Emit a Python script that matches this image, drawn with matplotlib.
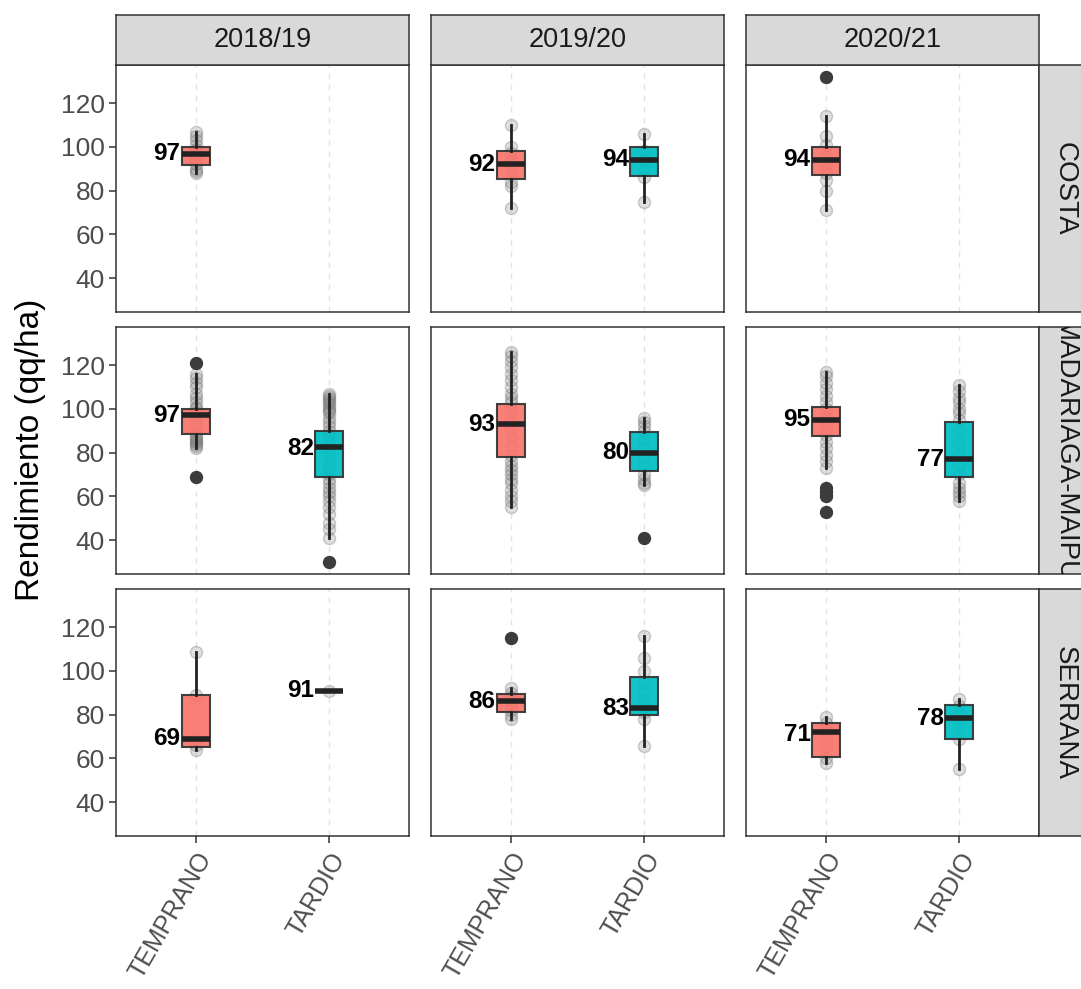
import matplotlib
matplotlib.use("Agg")
import matplotlib.pyplot as plt
from matplotlib import font_manager

W, H = 1081, 989

regions = ["COSTA", "MADARIAGA-MAIPU", "SERRANA"]
seasons = ["2018/19", "2019/20", "2020/21"]
timings = ["TEMPRANO", "TARDIO"]

# box stats: (whisker low, q1, median, q3, whisker high)
box_stats = {
    ("COSTA", "2018/19", "TEMPRANO"): (88, 91.5, 96.5, 100, 107),
    ("COSTA", "2019/20", "TEMPRANO"): (72, 85.5, 92, 98, 110),
    ("COSTA", "2019/20", "TARDIO"): (75, 86.5, 94, 100, 106),
    ("COSTA", "2020/21", "TEMPRANO"): (71, 87, 94, 100, 114),
    ("MADARIAGA-MAIPU", "2018/19", "TEMPRANO"): (82, 88.5, 97, 100, 116),
    ("MADARIAGA-MAIPU", "2018/19", "TARDIO"): (41, 69, 82.5, 90, 107),
    ("MADARIAGA-MAIPU", "2019/20", "TEMPRANO"): (55, 78, 93, 102, 126),
    ("MADARIAGA-MAIPU", "2019/20", "TARDIO"): (65, 71.5, 80, 89.5, 96),
    ("MADARIAGA-MAIPU", "2020/21", "TEMPRANO"): (73, 87.5, 95, 101, 117),
    ("MADARIAGA-MAIPU", "2020/21", "TARDIO"): (58, 69, 77, 94, 111),
    ("SERRANA", "2018/19", "TEMPRANO"): (64, 65, 69, 89, 108.5),
    ("SERRANA", "2018/19", "TARDIO"): (91, 91, 91, 91, 91),
    ("SERRANA", "2019/20", "TEMPRANO"): (78, 81, 86, 89.5, 92),
    ("SERRANA", "2019/20", "TARDIO"): (65.5, 80, 83, 97, 116),
    ("SERRANA", "2020/21", "TEMPRANO"): (58, 60.5, 72, 76, 79),
    ("SERRANA", "2020/21", "TARDIO"): (55, 69, 78.5, 84.5, 87),
}

outliers = {
    ("COSTA", "2020/21", "TEMPRANO"): [132],
    ("MADARIAGA-MAIPU", "2018/19", "TEMPRANO"): [121, 69],
    ("MADARIAGA-MAIPU", "2018/19", "TARDIO"): [30],
    ("MADARIAGA-MAIPU", "2019/20", "TARDIO"): [41],
    ("MADARIAGA-MAIPU", "2020/21", "TEMPRANO"): [64, 62, 60, 53],
    ("SERRANA", "2019/20", "TEMPRANO"): [115],
}

# individual observations drawn as translucent points
obs = {
    ("COSTA", "2018/19", "TEMPRANO"): [88, 89, 90, 92, 94, 96, 98, 99, 101, 103, 105, 107],
    ("COSTA", "2019/20", "TEMPRANO"): [72, 82, 84, 88, 91, 93, 95, 97, 100, 110],
    ("COSTA", "2019/20", "TARDIO"): [75, 86, 90, 94, 98, 106],
    ("COSTA", "2020/21", "TEMPRANO"): [71, 80, 85, 88, 92, 96, 101, 105, 114, 132],
    ("MADARIAGA-MAIPU", "2018/19", "TEMPRANO"): [69, 82, 83, 84, 85, 85.5, 86, 87, 88, 90, 93, 96,
                                                98, 100, 101, 103, 105, 107, 110, 112, 114, 116, 121],
    ("MADARIAGA-MAIPU", "2018/19", "TARDIO"): [30, 41, 45, 48, 52, 55, 58, 60, 62, 64, 66, 68, 70, 73,
                                              76, 79, 82, 85, 88, 90, 92, 94, 96, 98, 99, 100, 101,
                                              102, 103, 104, 105, 106, 107],
    ("MADARIAGA-MAIPU", "2019/20", "TEMPRANO"): [55, 58, 60, 63, 66, 68, 70, 72, 74, 76, 79, 83, 87,
                                                91, 95, 99, 103, 105, 107, 110, 113, 116, 119, 122,
                                                124, 126],
    ("MADARIAGA-MAIPU", "2019/20", "TARDIO"): [41, 65, 66, 68, 70, 74, 78, 82, 86, 90, 92, 94, 96],
    ("MADARIAGA-MAIPU", "2020/21", "TEMPRANO"): [53, 60, 62, 64, 73, 76, 79, 82, 85, 88, 92, 96, 100,
                                                103, 106, 109, 112, 115, 117],
    ("MADARIAGA-MAIPU", "2020/21", "TARDIO"): [58, 60, 62, 64, 66, 70, 75, 80, 85, 90, 95, 98, 100,
                                              103, 105, 108, 111],
    ("SERRANA", "2018/19", "TEMPRANO"): [64, 66, 69, 89, 108.5],
    ("SERRANA", "2018/19", "TARDIO"): [91],
    ("SERRANA", "2019/20", "TEMPRANO"): [78, 80, 82, 84, 86, 88, 90, 92, 115],
    ("SERRANA", "2019/20", "TARDIO"): [65.5, 78, 81, 83, 86, 90, 95, 100, 106, 116],
    ("SERRANA", "2020/21", "TEMPRANO"): [58, 60, 65, 70, 73, 76, 79],
    ("SERRANA", "2020/21", "TARDIO"): [55, 69, 75, 80, 84, 87],
}

median_labels = {
    ("COSTA", "2018/19", "TEMPRANO"): 97,
    ("COSTA", "2019/20", "TEMPRANO"): 92,
    ("COSTA", "2019/20", "TARDIO"): 94,
    ("COSTA", "2020/21", "TEMPRANO"): 94,
    ("MADARIAGA-MAIPU", "2018/19", "TEMPRANO"): 97,
    ("MADARIAGA-MAIPU", "2018/19", "TARDIO"): 82,
    ("MADARIAGA-MAIPU", "2019/20", "TEMPRANO"): 93,
    ("MADARIAGA-MAIPU", "2019/20", "TARDIO"): 80,
    ("MADARIAGA-MAIPU", "2020/21", "TEMPRANO"): 95,
    ("MADARIAGA-MAIPU", "2020/21", "TARDIO"): 77,
    ("SERRANA", "2018/19", "TEMPRANO"): 69,
    ("SERRANA", "2018/19", "TARDIO"): 91,
    ("SERRANA", "2019/20", "TEMPRANO"): 86,
    ("SERRANA", "2019/20", "TARDIO"): 83,
    ("SERRANA", "2020/21", "TEMPRANO"): 71,
    ("SERRANA", "2020/21", "TARDIO"): 78,
}

yticks = [40, 60, 80, 100, 120]
fill_colors = {"TEMPRANO": "#F8766D", "TARDIO": "#00BFC4"}

installed = {f.name for f in font_manager.fontManager.ttflist}
narrow = "Liberation Sans Narrow" if "Liberation Sans Narrow" in installed else "Liberation Sans"
plt.rcParams["font.family"] = ["Liberation Sans", "DejaVu Sans"]

fig = plt.figure(figsize=(W / 100, H / 100), dpi=100)


def rect(x0, y0, w, h):
    return [x0 / W, 1 - (y0 + h) / H, w / W, h / H]


col_left = [116, 431, 746]
row_top = [65, 327, 589]
pw, ph = 293, 247
edge = "#333333"

for r, region in enumerate(regions):
    for c, season in enumerate(seasons):
        ax = fig.add_axes(rect(col_left[c], row_top[r], pw, ph))
        ax.set_xlim(0.4, 2.6)
        ax.set_ylim(24.5, 137.4)
        for s in ax.spines.values():
            s.set_color(edge)
            s.set_linewidth(1.1)
        # dashed vertical grid
        for xpos in (1, 2):
            ax.axvline(xpos, color="#E3E3E3", lw=1.0, ls=(0, (4, 4)), zorder=0)

        for i, t in enumerate(timings):
            key = (region, season, t)
            if key not in box_stats:
                continue
            vals = obs.get(key, [])
            ax.scatter([i + 1] * len(vals), vals, s=75, facecolor=(0.5, 0.5, 0.5, 0.25),
                       edgecolor=(0.45, 0.45, 0.45, 0.35), lw=1.0, zorder=2)
            lo, q1, med, q3, hi = box_stats[key]
            st = dict(whislo=lo, q1=q1, med=med, q3=q3, whishi=hi,
                      fliers=outliers.get(key, []))
            ax.bxp([st], positions=[i + 1], widths=0.21, patch_artist=True,
                   showcaps=False,
                   boxprops=dict(facecolor=fill_colors[t], edgecolor=edge, lw=1.5, alpha=0.93),
                   medianprops=dict(color="#222222", lw=4, solid_capstyle="butt"),
                   whiskerprops=dict(color="#222222", lw=2.0),
                   flierprops=dict(marker="o", markerfacecolor="#3c3c3c",
                                   markeredgecolor="#3c3c3c", markersize=8.5),
                   zorder=3)
            ax.text(i + 1 - 0.115, median_labels[key], str(median_labels[key]),
                    ha="right", va="center", fontsize=17.5, fontweight="bold",
                    color="black", zorder=5)

        ax.set_yticks(yticks)
        ax.set_xticks([1, 2])
        if c == 0:
            ax.tick_params(axis="y", length=5, width=1.1, color=edge,
                           labelsize=19, labelcolor="#4D4D4D", pad=3)
        else:
            ax.tick_params(axis="y", length=0, labelleft=False)
        if r == len(regions) - 1:
            ax.set_xticklabels(timings, rotation=60, ha="right", rotation_mode="anchor")
            ax.tick_params(axis="x", length=5, width=1.1, color=edge,
                           labelsize=18, labelcolor="#4D4D4D", pad=4)
        else:
            ax.tick_params(axis="x", length=0, labelbottom=False)

# column strips
for c, season in enumerate(seasons):
    sax = fig.add_axes(rect(col_left[c], 15, pw, 50))
    sax.set_facecolor("#D9D9D9")
    sax.set_xticks([])
    sax.set_yticks([])
    for s in sax.spines.values():
        s.set_color(edge)
        s.set_linewidth(1.1)
    sax.text(0.5, 0.5, season, transform=sax.transAxes, ha="center", va="center",
             fontsize=19.5, color="#1A1A1A", family=[narrow, "DejaVu Sans"])

# row strips (partly cut at the right edge)
for r, region in enumerate(regions):
    sax = fig.add_axes(rect(1039, row_top[r], 52, ph))
    sax.set_facecolor("#D9D9D9")
    sax.set_xticks([])
    sax.set_yticks([])
    for s in sax.spines.values():
        s.set_color(edge)
        s.set_linewidth(1.1)
    sax.text(0.5, 0.5, region, transform=sax.transAxes, ha="center", va="center",
             rotation=-90, fontsize=20, color="#1A1A1A", clip_on=True,
             family=[narrow, "DejaVu Sans"])

fig.text(31 / W, 1 - 450 / H, "Rendimiento (qq/ha)", rotation=90, ha="center", va="center",
         fontsize=24, color="black", family=[narrow, "DejaVu Sans"])

fig.savefig("out.png", dpi=100)
